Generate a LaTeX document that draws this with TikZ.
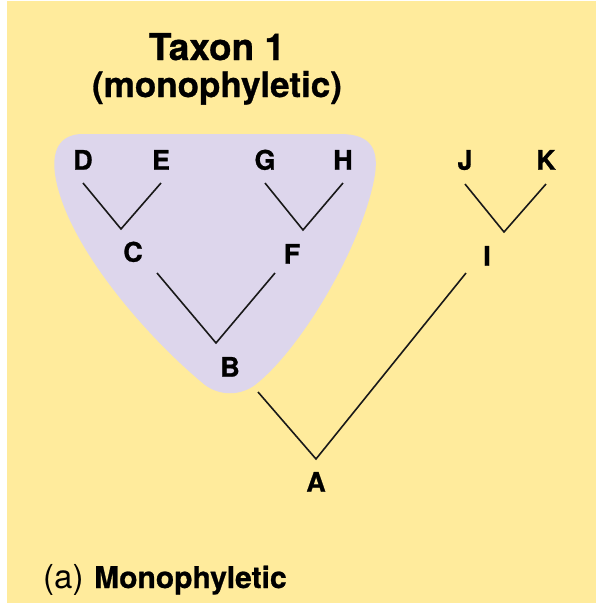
\documentclass[tikz,border=0pt]{standalone}
\usepackage{fontspec}
\setmainfont{TeX Gyre Heros}[BoldFeatures={FakeBold=0.8}]
\definecolor{panelbg}{HTML}{FFEB9C}
\definecolor{cladefill}{HTML}{DDD6EC}
\tikzset{
  taxon/.style={font=\fontsize{27}{27}\selectfont\bfseries, inner sep=0pt,
                text height=19.4pt, text depth=0pt},
  branch/.style={line width=1.6pt, black!90},
}
\begin{document}
\begin{tikzpicture}[x=1pt, y=-1pt]

\useasboundingbox (0,0) rectangle (603,606);

% background
\fill[panelbg] (7,1) rectangle (596,603);

% taxon 1 clade
\fill[cladefill] (83,134) -- (340,134)
  .. controls (372,134) and (380,150) .. (374,180)
  .. controls (360,250) and (300,350) .. (255,385)
  .. controls (240,396) and (220,396) .. (205,385)
  .. controls (150,340) and (70,250) .. (56,180)
  .. controls (50,150) and (60,134) .. (83,134) -- cycle;

% tips
\foreach \n/\x in {D/83,E/161,G/265,H/343,J/465,K/546}
  \node[taxon] (\n) at (\x,160) {\n};

% ancestors
\node[taxon] (C) at (133,252) {C};
\node[taxon] (F) at (292,254) {F};
\node[taxon] (I) at (487,256) {I};
\node[taxon] (B) at (230,367) {B};
\node[taxon] (A) at (316,482) {A};

% branch points
\coordinate (cDE) at (121,229);
\coordinate (cGH) at (303,230);
\coordinate (cJK) at (504,232);
\coordinate (cCF) at (216,343);
\coordinate (cBI) at (316,459);

% branches
\draw[branch] ([yshift=-23pt]D.center) -- (cDE) -- ([yshift=-23pt]E.center);
\draw[branch] ([yshift=-23pt]G.center) -- (cGH) -- ([yshift=-23pt]H.center);
\draw[branch] ([yshift=-24pt]J.center) -- (cJK) -- ([yshift=-24pt]K.center);
\draw[branch] ([shift={(24pt,-21pt)}]C.center) -- (cCF) -- ([shift={(-17pt,-19pt)}]F.center);
\draw[branch] ([shift={(28pt,-25pt)}]B.center) -- (cBI) -- ([shift={(-21pt,-17pt)}]I.center);

% labels
\node[font=\fontsize{37}{37}\selectfont\bfseries, anchor=base] (title) at (217,60) {Taxon 1};
\node[font=\fontsize{35}{35}\selectfont\bfseries, anchor=base] (subtitle) at (217,97) {(monophyletic)};
\node[font=\fontsize{33}{33}\selectfont, anchor=base west, inner sep=0pt] (panel) at (43,588) {(a)};
\node[font=\fontsize{30}{30}\selectfont\bfseries, anchor=base west, inner sep=0pt] (caption) at (94,588) {Monophyletic};

\end{tikzpicture}
\end{document}
